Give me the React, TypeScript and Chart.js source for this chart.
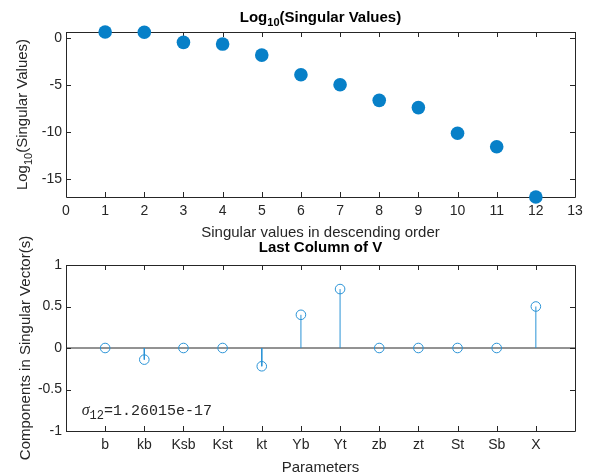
import React, { useEffect, useRef } from 'react';
import { Chart, registerables } from 'chart.js';

Chart.register(...registerables);

// ---- data -------------------------------------------------------------
const svIndex = [1, 2, 3, 4, 5, 6, 7, 8, 9, 10, 11, 12];
const logSingularValues = [0.6, 0.58, -0.5, -0.68, -1.85, -3.94, -5.0, -6.65, -7.42, -10.14, -11.57, -16.8996];
const svXTicks = [0, 1, 2, 3, 4, 5, 6, 7, 8, 9, 10, 11, 12, 13];
const svYTicks = [-15, -10, -5, 0];

const parameterNames = ['b', 'kb', 'Ksb', 'Kst', 'kt', 'Yb', 'Yt', 'zb', 'zt', 'St', 'Sb', 'X'];
const lastColumnV = [0, -0.14, 0, 0, -0.22, 0.4, 0.71, 0, 0, 0, 0, 0.5];
const vYTicks = [-1, -0.5, 0, 0.5, 1];
const smallestSigma = '1.26015e-17';

// ---- styling ----------------------------------------------------------
const SANS = "'Liberation Sans', Arial, Helvetica, sans-serif";
const MONO = "'Liberation Mono', 'Courier New', monospace";
const SERIF = "'Liberation Serif', 'Times New Roman', serif";
const AXIS = '#262626';
const DOT = '#0780c8';
const STEM = '#2a93d6';
const W = 591;
const H = 473;

type Seg = { text: string; font: string; dy?: number };

function drawSegs(ctx: CanvasRenderingContext2D, segs: Seg[], x: number, y: number, align: 'center' | 'left', color: string) {
  const widths = segs.map((s) => {
    ctx.font = s.font;
    return ctx.measureText(s.text).width;
  });
  const total = widths.reduce((a, b) => a + b, 0);
  let cx = align === 'center' ? x - total / 2 : x;
  ctx.fillStyle = color;
  ctx.textAlign = 'left';
  ctx.textBaseline = 'alphabetic';
  segs.forEach((s, i) => {
    ctx.font = s.font;
    ctx.fillText(s.text, cx, y + (s.dy || 0));
    cx += widths[i];
  });
}

type Deco = {
  title: Seg[];
  titleGap: number;
  xLabel: string;
  xLabelGap: number;
  yLabel: Seg[];
  yLabelX: number;
  extra?: (chart: any) => void;
};

// Box around the axes with inward tick marks on all four sides, plus titles and labels.
function decorations(d: Deco) {
  return {
    id: 'axesDecor',
    beforeDatasetsDraw(chart: any) {
      const { ctx, chartArea: a, scales } = chart;
      ctx.save();
      ctx.strokeStyle = AXIS;
      ctx.lineWidth = 1;
      ctx.beginPath();
      ctx.rect(Math.round(a.left) + 0.5, Math.round(a.top) + 0.5, Math.round(a.right - a.left), Math.round(a.bottom - a.top));
      const tl = 5;
      scales.x.ticks.forEach((t: any) => {
        const px = Math.round(scales.x.getPixelForValue(t.value)) + 0.5;
        ctx.moveTo(px, a.bottom);
        ctx.lineTo(px, a.bottom - tl);
        ctx.moveTo(px, a.top);
        ctx.lineTo(px, a.top + tl);
      });
      scales.y.ticks.forEach((t: any) => {
        const py = Math.round(scales.y.getPixelForValue(t.value)) + 0.5;
        ctx.moveTo(a.left, py);
        ctx.lineTo(a.left + tl, py);
        ctx.moveTo(a.right, py);
        ctx.lineTo(a.right - tl, py);
      });
      ctx.stroke();
      ctx.restore();
    },
    afterDraw(chart: any) {
      const { ctx, chartArea: a } = chart;
      const cx = (a.left + a.right) / 2;
      ctx.save();
      drawSegs(ctx, d.title, cx, a.top - d.titleGap, 'center', '#000');
      drawSegs(ctx, [{ text: d.xLabel, font: `15px ${SANS}` }], cx, a.bottom + d.xLabelGap, 'center', AXIS);
      ctx.translate(d.yLabelX, (a.top + a.bottom) / 2);
      ctx.rotate(-Math.PI / 2);
      drawSegs(ctx, d.yLabel, 0, 0, 'center', AXIS);
      ctx.restore();
      if (d.extra) d.extra(chart);
    },
  };
}

function fixedScaleX(scale: any) {
  scale.height = 30;
  scale.paddingLeft = 0;
  scale.paddingRight = 0;
}
function fixedScaleY(scale: any) {
  scale.width = 40;
  scale.paddingTop = 0;
  scale.paddingBottom = 0;
}

const tickFont = { family: SANS, size: 14 };
const plainNumber = (v: any) => String(Number(v));

function singularValuesConfig(): any {
  return {
    type: 'scatter',
    data: {
      datasets: [
        {
          data: svIndex.map((x, i) => ({ x, y: logSingularValues[i] })),
          pointRadius: 6.8,
          pointBackgroundColor: DOT,
          pointBorderWidth: 0,
          clip: false,
        },
      ],
    },
    options: {
      responsive: false,
      animation: false,
      devicePixelRatio: 1,
      layout: { padding: { left: 26, right: 16, top: 32, bottom: H - 197 - 30 } },
      plugins: { legend: { display: false }, tooltip: { enabled: false } },
      scales: {
        x: {
          type: 'linear',
          min: 0,
          max: 13,
          afterBuildTicks: (s: any) => {
            s.ticks = svXTicks.map((value) => ({ value }));
          },
          afterFit: fixedScaleX,
          grid: { display: false, drawTicks: false },
          border: { display: false },
          ticks: { font: tickFont, color: AXIS, padding: 6, maxRotation: 0, autoSkip: false, callback: plainNumber },
        },
        y: {
          type: 'linear',
          min: Math.min(...logSingularValues),
          max: Math.max(...logSingularValues),
          afterBuildTicks: (s: any) => {
            s.ticks = svYTicks.map((value) => ({ value }));
          },
          afterFit: fixedScaleY,
          grid: { display: false, drawTicks: false },
          border: { display: false },
          ticks: { font: tickFont, color: AXIS, padding: 4, autoSkip: false, callback: plainNumber },
        },
      },
    },
    plugins: [
      decorations({
        title: [
          { text: 'Log', font: `bold 15px ${SANS}` },
          { text: '10', font: `bold 11px ${SANS}`, dy: 4.5 },
          { text: '(Singular Values)', font: `bold 15px ${SANS}` },
        ],
        titleGap: 10.5,
        xLabel: 'Singular values in descending order',
        xLabelGap: 39.5,
        yLabel: [
          { text: 'Log', font: `15px ${SANS}` },
          { text: '10', font: `11px ${SANS}`, dy: 4.5 },
          { text: '(Singular Values)', font: `15px ${SANS}` },
        ],
        yLabelX: 27,
      }),
    ],
  };
}

function lastColumnConfig(): any {
  const stemPoints: any[] = [];
  svIndex.forEach((x, i) => {
    stemPoints.push({ x, y: 0 }, { x, y: lastColumnV[i] }, { x, y: null });
  });
  return {
    type: 'scatter',
    data: {
      datasets: [
        {
          type: 'line',
          data: [
            { x: 0, y: 0 },
            { x: 13, y: 0 },
          ],
          borderColor: AXIS,
          borderWidth: 1,
          pointRadius: 0,
          order: 3,
        },
        {
          type: 'line',
          data: stemPoints,
          borderColor: STEM,
          borderWidth: 1,
          pointRadius: 0,
          spanGaps: false,
          order: 2,
        },
        {
          data: svIndex.map((x, i) => ({ x, y: lastColumnV[i] })),
          pointRadius: 4.8,
          pointBackgroundColor: 'rgba(0,0,0,0)',
          pointBorderColor: STEM,
          pointBorderWidth: 1,
          clip: false,
          order: 1,
        },
      ],
    },
    options: {
      responsive: false,
      animation: false,
      devicePixelRatio: 1,
      layout: { padding: { left: 26, right: 16, top: 265, bottom: H - 431 - 30 } },
      plugins: { legend: { display: false }, tooltip: { enabled: false } },
      scales: {
        x: {
          type: 'linear',
          min: 0,
          max: 13,
          afterBuildTicks: (s: any) => {
            s.ticks = svIndex.map((value) => ({ value }));
          },
          afterFit: fixedScaleX,
          grid: { display: false, drawTicks: false },
          border: { display: false },
          ticks: {
            font: tickFont,
            color: AXIS,
            padding: 6,
            maxRotation: 0,
            autoSkip: false,
            callback: (v: any) => parameterNames[Number(v) - 1] ?? '',
          },
        },
        y: {
          type: 'linear',
          min: -1,
          max: 1,
          afterBuildTicks: (s: any) => {
            s.ticks = vYTicks.map((value) => ({ value }));
          },
          afterFit: fixedScaleY,
          grid: { display: false, drawTicks: false },
          border: { display: false },
          ticks: { font: tickFont, color: AXIS, padding: 4, autoSkip: false, callback: plainNumber },
        },
      },
    },
    plugins: [
      decorations({
        title: [{ text: 'Last Column of V', font: `bold 15px ${SANS}` }],
        titleGap: 13.5,
        xLabel: 'Parameters',
        xLabelGap: 40.5,
        yLabel: [{ text: 'Components in Singular Vector(s)', font: `15px ${SANS}` }],
        yLabelX: 30,
        extra: (chart: any) => {
          const { ctx, scales } = chart;
          const x = scales.x.getPixelForValue(0.4);
          const y = scales.y.getPixelForValue(-0.81);
          ctx.save();
          drawSegs(
            ctx,
            [
              { text: 'σ', font: `italic 16px ${SERIF}` },
              { text: '12', font: `12px ${MONO}`, dy: 4 },
              { text: '=' + smallestSigma, font: `15px ${MONO}` },
            ],
            x,
            y,
            'left',
            AXIS
          );
          ctx.restore();
        },
      }),
    ],
  };
}

export default function App() {
  const topRef = useRef<HTMLCanvasElement>(null);
  const bottomRef = useRef<HTMLCanvasElement>(null);

  useEffect(() => {
    document.body.style.margin = '0';
    const charts: Chart[] = [];
    if (topRef.current) charts.push(new Chart(topRef.current, singularValuesConfig()));
    if (bottomRef.current) charts.push(new Chart(bottomRef.current, lastColumnConfig()));
    return () => charts.forEach((c) => c.destroy());
  }, []);

  const canvasStyle: React.CSSProperties = { position: 'absolute', left: 0, top: 0, width: W, height: H };
  return (
    <div style={{ position: 'relative', width: W, height: H, background: '#fff' }}>
      <canvas ref={topRef} width={W} height={H} style={canvasStyle} />
      <canvas ref={bottomRef} width={W} height={H} style={canvasStyle} />
    </div>
  );
}
